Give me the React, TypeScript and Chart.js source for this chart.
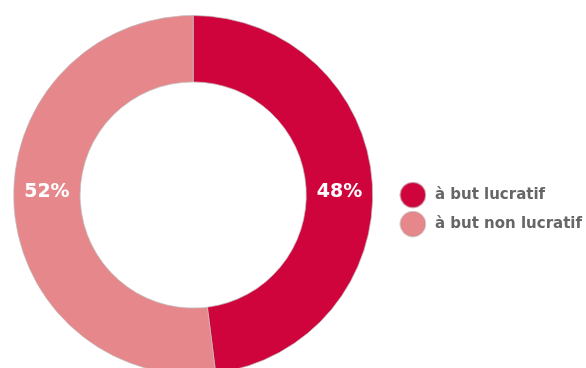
import React, { useEffect, useRef } from 'react';
import { Chart, registerables } from 'chart.js';

Chart.register(...registerables);

const categories: string[] = ['à but lucratif', 'à but non lucratif'];
const values: number[] = [48, 52];
const valueLabels: string[] = ['48%', '52%'];
const colors: string[] = ['#d0043c', '#e6878b'];

function makeDot(color: string): HTMLCanvasElement {
  const c = document.createElement('canvas');
  c.width = 27;
  c.height = 27;
  const ctx = c.getContext('2d')!;
  ctx.fillStyle = color;
  ctx.beginPath();
  ctx.arc(13.5, 13.5, 12.6, 0, Math.PI * 2);
  ctx.fill();
  ctx.strokeStyle = 'rgba(140,140,140,0.45)';
  ctx.lineWidth = 1;
  ctx.stroke();
  return c;
}

const sliceLabels = {
  id: 'sliceLabels',
  afterDatasetsDraw(chart: any) {
    const meta = chart.getDatasetMeta(0);
    const ctx = chart.ctx;
    ctx.save();
    ctx.font = 'bold 19px "DejaVu Sans"';
    ctx.fillStyle = '#ffffff';
    ctx.textAlign = 'center';
    ctx.textBaseline = 'middle';
    meta.data.forEach((arc: any, i: number) => {
      const p = arc.getProps(['x', 'y', 'innerRadius', 'outerRadius', 'startAngle', 'endAngle'], true);
      const mid = (p.startAngle + p.endAngle) / 2;
      const r = (p.innerRadius + p.outerRadius) / 2;
      const lx = p.x + r * Math.sign(Math.cos(mid));
      ctx.fillText(valueLabels[i], lx, p.y - 3);
    });
    ctx.restore();
  },
};

export default function App() {
  const ref = useRef<HTMLCanvasElement>(null);
  useEffect(() => {
    if (!ref.current) return;
    const dots = colors.map(makeDot);
    const chart = new Chart(ref.current, {
      type: 'doughnut',
      data: {
        labels: categories,
        datasets: [
          {
            data: values,
            backgroundColor: colors,
            borderColor: 'rgba(190,190,190,0.7)',
            borderWidth: 1,
          },
        ],
      },
      options: {
        animation: false,
        responsive: true,
        maintainAspectRatio: false,
        cutout: '63%',
        layout: { padding: { top: 15, bottom: 5, left: 2, right: 0 } },
        plugins: {
          tooltip: { enabled: false },
          legend: {
            position: 'right',
            title: { display: true, text: '', font: { size: 10 }, padding: { top: 0, bottom: 17 } },
            labels: {
              usePointStyle: true,
              pointStyleWidth: 29,
              padding: 14,
              color: '#6f6f6f',
              font: { family: '"DejaVu Sans"', size: 15, weight: 'bold' },
              generateLabels: () =>
                categories.map((t, i) => ({
                  text: t,
                  fillStyle: colors[i],
                  strokeStyle: colors[i],
                  lineWidth: 0,
                  pointStyle: dots[i],
                  hidden: false,
                  index: i,
                  datasetIndex: 0,
                })),
            },
          },
        },
      },
      plugins: [sliceLabels],
    } as any);
    return () => chart.destroy();
  }, []);
  return (
    <div style={{ position: 'fixed', left: 0, top: 0, width: 586, height: 368, overflow: 'hidden', background: '#fff' }}>
      <div style={{ position: 'absolute', left: 0, top: 0, width: 592, height: 380 }}>
        <canvas ref={ref} />
      </div>
    </div>
  );
}
